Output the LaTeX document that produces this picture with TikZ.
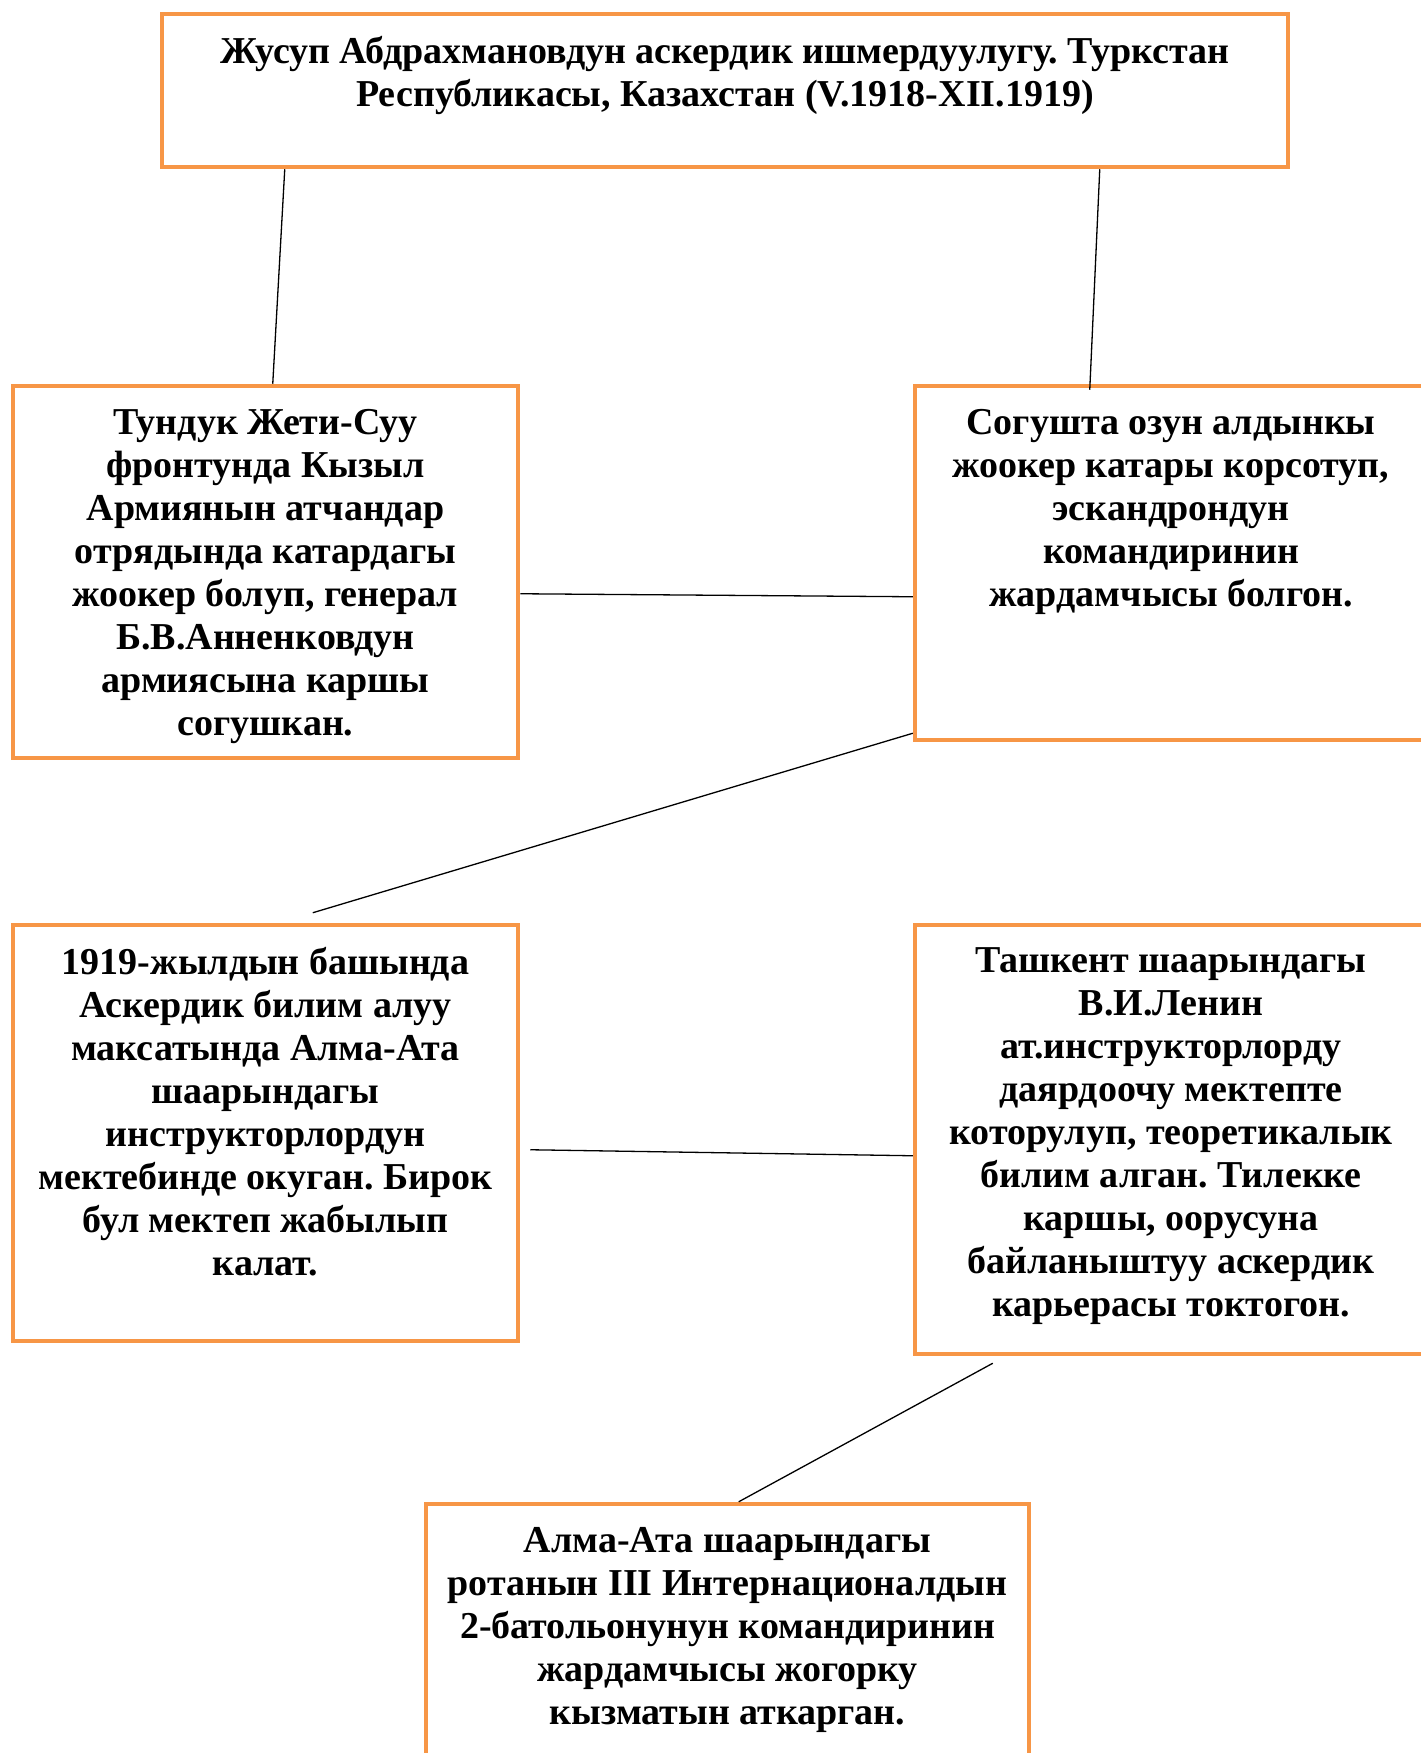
\documentclass[tikz,border=0pt]{standalone}
\usepackage{fontspec}
\setmainfont{Liberation Serif}
\usetikzlibrary{fit,calc}
\definecolor{boxorange}{HTML}{F79646}
\frenchspacing
\begin{document}
\begin{tikzpicture}[x=1pt,y=-1pt,
  box/.style={draw=boxorange,line width=4.5pt,inner sep=0pt},
  txt/.style={anchor=north,inner sep=0pt,align=center,
    font=\fontsize{38}{43}\selectfont\bfseries,execute at begin node=\strut},
  link/.style={line width=1.3pt}]
\useasboundingbox (0,0) rectangle (1421,1753);
\clip (0,0) rectangle (1421,1753);
\node[box,fit={(162,14) (1288,167)}](head){};
\node[box,fit={(13,386) (518,758)}](front){};
\node[box,fit={(915,386) (1427,740)}](brave){};
\node[box,fit={(13,925) (518,1341)}](school){};
\node[box,fit={(915,925) (1427,1354)}](tashkent){};
\node[box,fit={(426,1504) (1029,1775)}](almaata){};
\node[txt](headtxt) at ($(head.north)+(0,24)$){Жусуп Абдрахмановдун аскердик ишмердуулугу. Туркстан\\Республикасы, Казахстан (V.1918-XII.1919)};
\node[txt](fronttxt) at ($(front.north)+(0,25)$){Тундук Жети-Суу\\фронтунда Кызыл\\Армиянын атчандар\\отрядында катардагы\\жоокер болуп, генерал\\Б.В.Анненковдун\\армиясына каршы\\согушкан.};
\node[txt](bravetxt) at ($(brave.north)+(0,25)$){Согушта озун алдынкы\\жоокер катары корсотуп,\\эскандрондун\\командиринин\\жардамчысы болгон.};
\node[txt](schooltxt) at ($(school.north)+(0,24.5)$){1919-жылдын башында\\Аскердик билим алуу\\максатында Алма-Ата\\шаарындагы\\инструкторлордун\\мектебинде окуган. Бирок\\бул мектеп жабылып\\калат.};
\node[txt](tashkenttxt) at ($(tashkent.north)+(0,24.5)$){Ташкент шаарындагы\\В.И.Ленин\\ат.инструкторлорду\\даярдоочу мектепте\\которулуп, теоретикалык\\билим алган. Тилекке\\каршы, оорусуна\\байланыштуу аскердик\\карьерасы токтогон.};
\node[txt](almaatatxt) at ($(almaata.north)+(0,25)$){Алма-Ата шаарындагы\\ротанын III Интернационалдын\\2-батольонунун командиринин\\жардамчысы жогорку\\кызматын аткарган.};
\draw[link]($(head.south west)+(125,0)$)--($(front.north west)+(262,0)$);
\draw[link]($(head.south west)+(940,0)$)--($(brave.north west)+(177,6)$);
\draw[link]($(front.north east)+(0,210)$)--($(brave.north west)+(0,213)$);
\draw[link]($(brave.south west)+(0,-9)$)--($(school.north west)+(302,-10)$);
\draw[link]($(school.north east)+(10,227)$)--($(tashkent.north west)+(0,233)$);
\draw[link]($(tashkent.south west)+(80,7)$)--($(almaata.north west)+(315,0)$);
\end{tikzpicture}
\end{document}
